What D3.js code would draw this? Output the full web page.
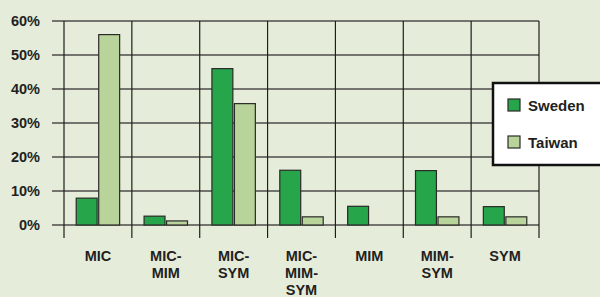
<!DOCTYPE html>
<html>
<head>
<meta charset="utf-8">
<script src="https://cdn.jsdelivr.net/npm/d3@7"></script>
<style>
  body { margin: 0; background: #e6ecda; }
  svg text { font-family: "Liberation Sans", Arial, sans-serif; font-weight: bold; fill: #231f20; }
</style>
</head>
<body>
<svg id="chart"></svg>
<script>
// data
let categories = [["MIC"], ["MIC-", "MIM"], ["MIC-", "SYM"], ["MIC-", "MIM-", "SYM"], ["MIM"], ["MIM-", "SYM"], ["SYM"]]
let seriesNames = ["Sweden", "Taiwan"]
let sweden = [7.9, 2.6, 46, 16.1, 5.5, 16, 5.4]
let taiwan = [56, 1.2, 35.7, 2.4, 0, 2.4, 2.4]
let yTicks = [0, 10, 20, 30, 40, 50, 60]

let width = 600
let height = 297
let colors = { "Sweden": "#27a54a", "Taiwan": "#b9d49a" }

let svg = d3.select("#chart")
    .attr("width", width)
    .attr("height", height)

svg.append("rect")
    .attr("width", width)
    .attr("height", height)
    .attr("fill", "#e6ecda")

let keys = categories.map(d => d.join(""))

// scales
let x = d3.scaleBand().domain(keys).range([64, 539]).padding(0)
let y = d3.scaleLinear().domain([0, 60]).range([225, 21])
let bw = x.bandwidth()
let x1 = d3.scaleBand().domain(seriesNames).range([bw * 0.18, bw * 0.82]).paddingInner(0.07)

// horizontal grid lines (with the little tick stubs on the left)
svg.append("g")
    .selectAll("line")
    .data(yTicks)
    .enter()
    .append("line")
    .attr("x1", 52)
    .attr("x2", 539)
    .attr("y1", d => y(d))
    .attr("y2", d => y(d))
    .attr("stroke", "#4d4d48")
    .attr("stroke-width", 1.5)

// vertical category dividers
let dividers = keys.map(k => x(k)).concat([x.range()[1]])
svg.append("g")
    .selectAll("line")
    .data(dividers)
    .enter()
    .append("line")
    .attr("x1", d => d)
    .attr("x2", d => d)
    .attr("y1", y(60))
    .attr("y2", 238)
    .attr("stroke", "#1e1e1c")
    .attr("stroke-width", 1.2)

// y labels
svg.append("g")
    .selectAll("text")
    .data(yTicks)
    .enter()
    .append("text")
    .attr("x", 40)
    .attr("y", d => y(d) + 5)
    .attr("text-anchor", "end")
    .style("font-size", "14.5px")
    .text(d => d + "%")

// bars
let rows = keys.map((k, i) => ({ key: k, values: [
    { name: "Sweden", value: sweden[i] },
    { name: "Taiwan", value: taiwan[i] }
] }))

let groups = svg.append("g")
    .selectAll("g")
    .data(rows)
    .enter()
    .append("g")
    .attr("transform", d => "translate(" + x(d.key) + ",0)")

groups.selectAll("rect")
    .data(d => d.values.filter(v => v.value > 0))
    .enter()
    .append("rect")
    .attr("x", d => x1(d.name))
    .attr("y", d => y(d.value))
    .attr("width", x1.bandwidth())
    .attr("height", d => y(0) - y(d.value))
    .attr("fill", d => colors[d.name])
    .attr("stroke", "#2a2a28")
    .attr("stroke-width", 1.2)

// category labels
let labels = svg.append("g")
    .selectAll("text")
    .data(categories)
    .enter()
    .append("text")
    .attr("text-anchor", "middle")
    .style("font-size", "14.5px")

labels.selectAll("tspan")
    .data(d => d.map(line => ({ line: line, key: d.join("") })))
    .enter()
    .append("tspan")
    .attr("x", d => x(d.key) + bw / 2)
    .attr("y", (d, i) => 261 + i * 17)
    .text(d => d.line)

// legend
let legend = svg.append("g").attr("transform", "translate(493,83)")
legend.append("rect")
    .attr("width", 115)
    .attr("height", 82)
    .attr("fill", "#ffffff")
    .attr("stroke", "#111")
    .attr("stroke-width", 2.5)

let items = legend.selectAll("g.item")
    .data(seriesNames)
    .enter()
    .append("g")
    .attr("class", "item")
    .attr("transform", (d, i) => "translate(15," + (16 + i * 37) + ")")

items.append("rect")
    .attr("width", 12)
    .attr("height", 12)
    .attr("fill", d => colors[d])
    .attr("stroke", "#2a2a28")
    .attr("stroke-width", 1.2)

items.append("text")
    .attr("x", 20)
    .attr("y", 12)
    .style("font-size", "15px")
    .text(d => d)
</script>
</body>
</html>
